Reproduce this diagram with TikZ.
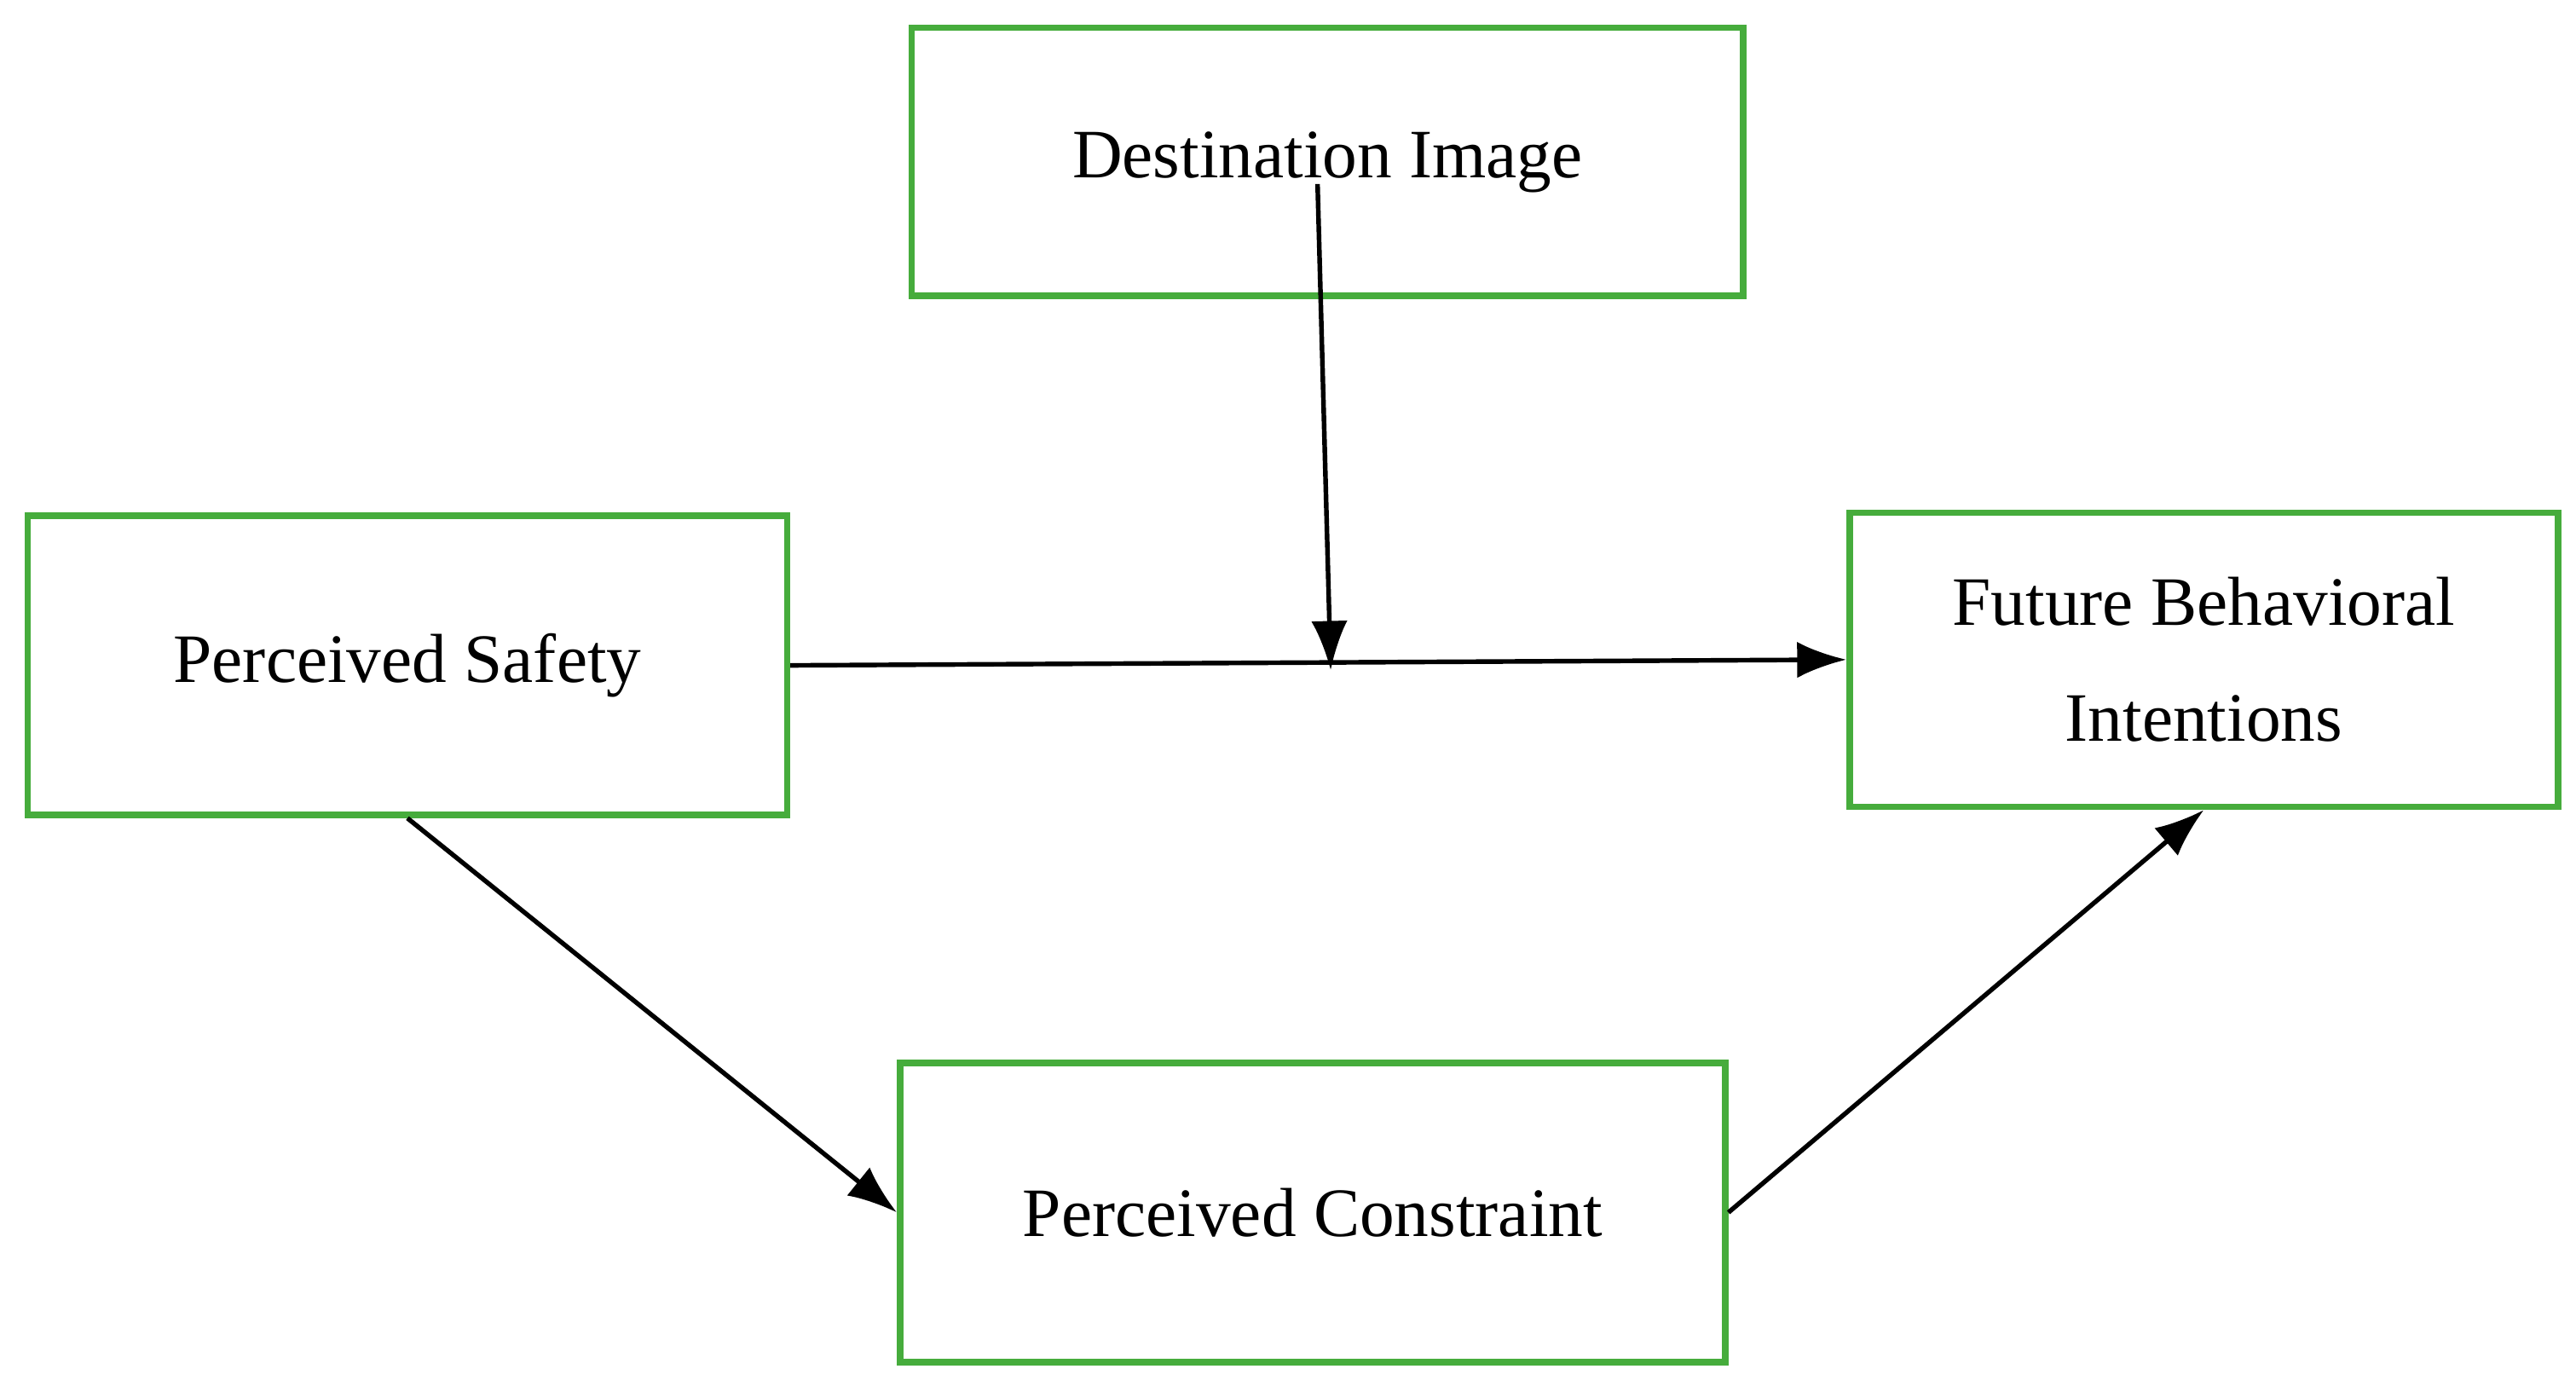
\documentclass[tikz,border=0pt]{standalone}
\usepackage{fontspec}
\setmainfont{Liberation Serif}
\usetikzlibrary{arrows.meta}
\definecolor{boxgreen}{RGB}{70,172,60}
\begin{document}
\begin{tikzpicture}[x=0.01cm,y=-0.01cm,
      box/.style={draw=boxgreen,line width=1.1pt,rectangle,inner sep=0pt,
        font=\fontsize{12}{20}\selectfont,align=center},
      link/.style={line width=0.8pt,-{Latex[length=0.3cm,width=0.22cm]}}]
    \useasboundingbox (0,0) rectangle (1568,847);
    \node[box,minimum width=5.06cm,minimum height=1.63cm](dest) at (808,98.5){Destination Image};
    \node[box,minimum width=4.62cm,minimum height=1.82cm](safe) at (248,405){Perceived Safety};
    \node[box,minimum width=4.31cm,minimum height=1.79cm](fbi) at (1341.5,401.5){Future Behavioral\\Intentions};
    \node[box,minimum width=5.02cm,minimum height=1.82cm](cons) at (799,738){Perceived Constraint};
    \coordinate (dtop) at (802,112);
    \coordinate (mid) at (810,408);
    \draw[link] (dtop) -- (mid);
    \draw[link] (safe.east) -- (fbi.west);
    \draw[link] (safe.south) -- (cons.west);
    \draw[link] (cons.east) -- (fbi.south);
\end{tikzpicture}
\end{document}
